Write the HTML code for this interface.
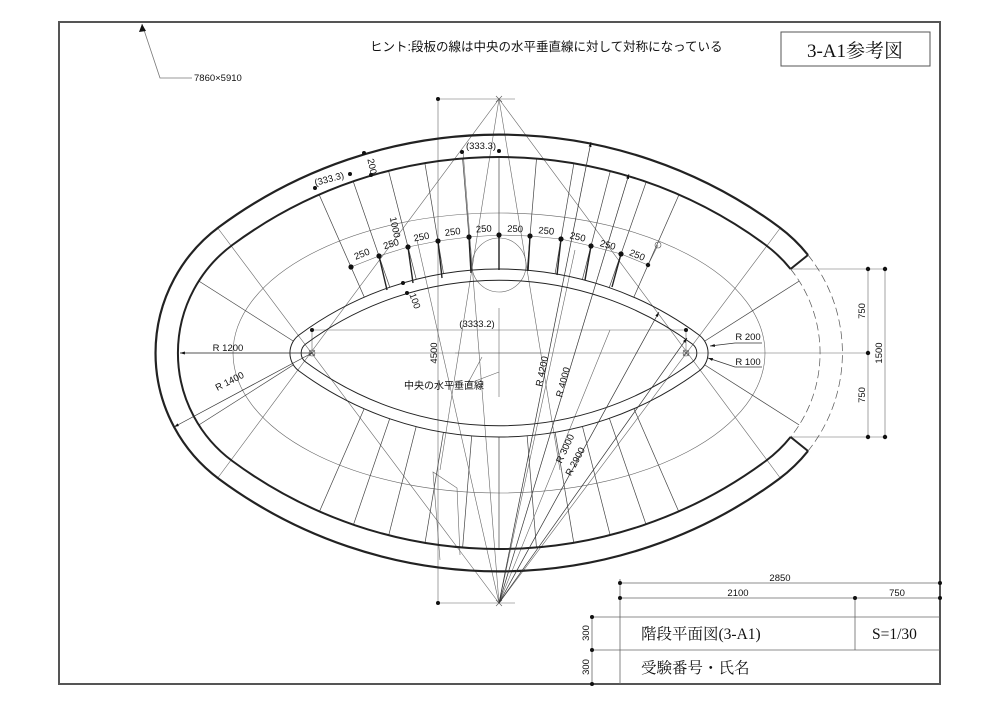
<!DOCTYPE html>
<html><head><meta charset="utf-8"><style>
html,body{margin:0;padding:0;background:#fff;width:999px;height:706px;overflow:hidden}
svg{display:block}
text{font-family:"Liberation Sans","Noto Sans CJK JP",sans-serif;fill:#111}
.s{font-family:"Liberation Serif","Noto Serif CJK SC",serif}
</style></head><body>
<svg width="999" height="706" viewBox="0 0 999 706" xmlns="http://www.w3.org/2000/svg">
<defs>
<clipPath id="c"><path transform="translate(499 353) scale(0.112)" clip-rule="evenodd" d="M-2381,-964.3 A4000 4000 0 0 1 2381,-964.3 A1200 1200 0 0 1 2381,964.3 A4000 4000 0 0 1 -2381,964.3 A1200 1200 0 0 1 -2381,-964.3Z M-1785.7,-160.7 A3000 3000 0 0 1 1785.7,-160.7 A200 200 0 0 1 1785.7,160.7 A3000 3000 0 0 1 -1785.7,160.7 A200 200 0 0 1 -1785.7,-160.7Z"/></clipPath>
<clipPath id="top"><rect x="0" y="0" width="999" height="353"/></clipPath>
<clipPath id="bot"><rect x="0" y="353" width="999" height="353"/></clipPath>
<marker id="a" viewBox="0 0 10 10" refX="10" refY="5" markerWidth="7" markerHeight="7" orient="auto-start-reverse"><path d="M0,2 L10,5 L0,8z" fill="#111"/></marker>
</defs>
<rect x="59" y="22" width="881" height="662" fill="none" stroke="#555" stroke-width="2"/>
<polyline points="142,24 160,78 192,78" fill="none" stroke="#777" stroke-width="0.8"/>
<path d="M142,24 L139,32 L146,31z" fill="#111"/>
<text x="194" y="81" font-size="9.5">7860×5910</text>
<text x="370" y="51" font-size="12.5">ヒント:段板の線は中央の水平垂直線に対して対称になっている</text>
<rect x="781" y="32" width="149" height="34" fill="none" stroke="#555" stroke-width="1"/>
<text class="s" x="855" y="57" font-size="19" text-anchor="middle">3-A1参考図</text>

<g stroke="#666" stroke-width="0.6" fill="none">
<line x1="438" y1="99" x2="515" y2="99"/><line x1="438" y1="603" x2="515" y2="603"/>
<line x1="438" y1="99" x2="438" y2="603"/>
<line x1="499" y1="99" x2="217" y2="479"/><line x1="499" y1="99" x2="781" y2="479"/>
<line x1="499" y1="603" x2="217" y2="227"/><line x1="499" y1="603" x2="781" y2="227"/>
<line x1="180" y1="353" x2="870" y2="353"/>
<line x1="455" y1="353" x2="543" y2="353"/><line x1="499" y1="308" x2="499" y2="397"/>
<line x1="499" y1="603" x2="417" y2="240"/>
<line x1="499" y1="603" x2="463" y2="151"/>
<line x1="499" y1="99" x2="560" y2="470"/>
<line x1="499" y1="99" x2="440" y2="470"/>
<line x1="499" y1="603" x2="575" y2="250"/>
<line x1="499" y1="603" x2="610" y2="330"/>
<ellipse cx="499" cy="353" rx="266" ry="140"/>
<polyline points="351,267 379,256 408,247 438,241 469,237 499,235 530,236 561,239 591,246 621,254 648,265 658,245"/>
<circle cx="499" cy="265" r="27"/>
<line x1="312" y1="330" x2="686" y2="330"/>
<line x1="312" y1="330" x2="312" y2="353"/><line x1="686" y1="330" x2="686" y2="353"/>
<line x1="790" y1="269" x2="885" y2="269"/><line x1="790" y1="437" x2="885" y2="437"/>
<line x1="868" y1="269" x2="868" y2="437"/><line x1="885" y1="269" x2="885" y2="437"/>
<polyline points="460,555 457,488 433,472 440,560"/>
<line x1="468" y1="383" x2="482" y2="357"/><line x1="470" y1="383" x2="499" y2="372"/>
</g>
<g clip-path="url(#c)" stroke="#444" stroke-width="0.7">
<g clip-path="url(#top)">
<line x1="499" y1="603" x2="203" y2="-69"/><line x1="499" y1="603" x2="259" y2="-91"/>
<line x1="499" y1="603" x2="317" y2="-109"/><line x1="499" y1="603" x2="377" y2="-121"/>
<line x1="499" y1="603" x2="439" y2="-129"/><line x1="499" y1="603" x2="499" y2="-133"/>
<line x1="499" y1="603" x2="561" y2="-131"/><line x1="499" y1="603" x2="623" y2="-125"/>
<line x1="499" y1="603" x2="683" y2="-111"/><line x1="499" y1="603" x2="743" y2="-95"/>
<line x1="499" y1="603" x2="797" y2="-73"/>
</g>
<g clip-path="url(#bot)">
<line x1="499" y1="99" x2="203" y2="779"/><line x1="499" y1="99" x2="259" y2="801"/>
<line x1="499" y1="99" x2="317" y2="819"/><line x1="499" y1="99" x2="377" y2="831"/>
<line x1="499" y1="99" x2="439" y2="839"/><line x1="499" y1="99" x2="499" y2="843"/>
<line x1="499" y1="99" x2="561" y2="841"/><line x1="499" y1="99" x2="623" y2="835"/>
<line x1="499" y1="99" x2="683" y2="821"/><line x1="499" y1="99" x2="743" y2="805"/>
<line x1="499" y1="99" x2="797" y2="783"/>
</g>
<line x1="312" y1="353" x2="150" y2="250"/><line x1="312" y1="353" x2="150" y2="456"/>
<line x1="686" y1="353" x2="848" y2="250"/><line x1="686" y1="353" x2="848" y2="456"/>
</g>
<g transform="translate(499 353) scale(0.112)" fill="none" stroke="#222">
<path vector-effect="non-scaling-stroke" stroke-width="2.2" d="M2759,-875 A1400 1400 0 0 0 2500,-1125 A4200 4200 0 0 0 -2500,-1125 A1400 1400 0 0 0 -2500,1125 A4200 4200 0 0 0 2500,1125 A1400 1400 0 0 0 2759,875"/>
<path vector-effect="non-scaling-stroke" stroke-width="2" d="M2603.4,-750 A1200 1200 0 0 0 2381,-964.3 A4000 4000 0 0 0 -2381,-964.3 A1200 1200 0 0 0 -2381,964.3 A4000 4000 0 0 0 2381,964.3 A1200 1200 0 0 0 2603.4,750"/>
<path vector-effect="non-scaling-stroke" stroke-width="2" d="M2603.4,-750 L2759,-875 M2603.4,750 L2759,875"/>
<path vector-effect="non-scaling-stroke" stroke-width="0.7" stroke="#555" stroke-dasharray="8 4" d="M2603.4,-750 A1200 1200 0 0 1 2603.4,750 M2759,-875 A1400 1400 0 0 1 2759,875"/>
<path vector-effect="non-scaling-stroke" stroke-width="1" d="M-1785.7,-160.7 A3000 3000 0 0 1 1785.7,-160.7 A200 200 0 0 1 1785.7,160.7 A3000 3000 0 0 1 -1785.7,160.7 A200 200 0 0 1 -1785.7,-160.7Z"/>
<path vector-effect="non-scaling-stroke" stroke-width="1" d="M-1726,-80.4 A2900 2900 0 0 1 1726,-80.4 A100 100 0 0 1 1726,80.4 A2900 2900 0 0 1 -1726,80.4 A100 100 0 0 1 -1726,-80.4Z"/>
</g>
<g stroke="#555" stroke-width="0.6" fill="none">
<circle cx="312" cy="353" r="3"/><circle cx="686" cy="353" r="3"/>
<path d="M309,350l6,6M315,350l-6,6M683,350l6,6M689,350l-6,6M496,96l6,6M502,96l-6,6M496,600l6,6M502,600l-6,6"/>
<circle cx="658" cy="245" r="3"/>
</g>
<g stroke="#333" stroke-width="0.7" fill="none" marker-end="url(#a)">
<line x1="499" y1="603" x2="591" y2="142"/>
<line x1="499" y1="603" x2="629" y2="174"/>
<line x1="499" y1="603" x2="659" y2="312"/>
<line x1="499" y1="603" x2="687" y2="338"/>
<line x1="312" y1="353" x2="180" y2="353"/>
<line x1="312" y1="353" x2="174" y2="427"/>
<polyline points="762,343 735,343 710,346"/>
<polyline points="762,367 735,367 708,358"/>
</g>
<g stroke="#222" stroke-width="1.4">
<line x1="379" y1="256" x2="387" y2="290"/><line x1="408" y1="247" x2="413" y2="283"/>
<line x1="438" y1="241" x2="442" y2="278"/><line x1="469" y1="237" x2="471" y2="273"/>
<line x1="499" y1="235" x2="499" y2="270"/><line x1="530" y1="236" x2="528" y2="271"/>
<line x1="561" y1="239" x2="557" y2="275"/><line x1="591" y1="246" x2="585" y2="280"/>
<line x1="621" y1="254" x2="612" y2="287"/>
</g>
<g fill="#111">
<circle cx="351" cy="267" r="2.6"/><circle cx="379" cy="256" r="2.6"/><circle cx="408" cy="247" r="2.6"/><circle cx="438" cy="241" r="2.6"/><circle cx="469" cy="237" r="2.6"/><circle cx="499" cy="235" r="2.6"/><circle cx="530" cy="236" r="2.6"/><circle cx="561" cy="239" r="2.6"/><circle cx="591" cy="246" r="2.6"/><circle cx="621" cy="254" r="2.6"/><circle cx="648" cy="265" r="2.2"/>
<circle cx="462" cy="152" r="2"/><circle cx="499" cy="151" r="2"/>
<circle cx="315" cy="188" r="2"/><circle cx="350" cy="174" r="2"/>
<circle cx="364" cy="153" r="2"/><circle cx="371" cy="175" r="2"/>
<circle cx="403" cy="283" r="2"/><circle cx="407" cy="293" r="2"/>
<circle cx="312" cy="330" r="2"/><circle cx="686" cy="330" r="2"/>
<circle cx="438" cy="99" r="2"/><circle cx="438" cy="603" r="2"/>
<circle cx="868" cy="269" r="2.2"/><circle cx="885" cy="269" r="2.2"/><circle cx="868" cy="353" r="2.2"/><circle cx="868" cy="437" r="2.2"/><circle cx="885" cy="437" r="2.2"/>
</g>
<g font-size="9.5" text-anchor="middle">
<text transform="translate(363,257) rotate(-21)">250</text>
<text transform="translate(392,247) rotate(-17)">250</text>
<text transform="translate(422,240) rotate(-11)">250</text>
<text transform="translate(453,235) rotate(-7)">250</text>
<text transform="translate(484,232) rotate(-4)">250</text>
<text transform="translate(515,232) rotate(2)">250</text>
<text transform="translate(546,234) rotate(5)">250</text>
<text transform="translate(577,240) rotate(13)">250</text>
<text transform="translate(607,248) rotate(15)">250</text>
<text transform="translate(636,258) rotate(22)">250</text>
<text x="481" y="149">(333.3)</text>
<text transform="translate(330,182) rotate(-15)">(333.3)</text>
<text transform="translate(369,167) rotate(78)">200</text>
<text transform="translate(392,228) rotate(78)">1000</text>
<text transform="translate(412,302) rotate(70)">100</text>
<text x="477" y="327">(3333.2)</text>
<text transform="translate(437,353) rotate(-90)">4500</text>
<text x="228" y="351">R 1200</text>
<text transform="translate(231,384) rotate(-27)">R 1400</text>
<text x="748" y="340">R 200</text>
<text x="748" y="365">R 100</text>
<text transform="translate(545,372) rotate(-78)">R 4200</text>
<text transform="translate(566,383) rotate(-75)">R 4000</text>
<text transform="translate(568,450) rotate(-65)">R 3000</text>
<text transform="translate(578,463) rotate(-62)">R 2900</text>
<text transform="translate(865,311) rotate(-90)">750</text>
<text transform="translate(865,395) rotate(-90)">750</text>
<text transform="translate(882,353) rotate(-90)">1500</text>
</g>
<text x="404" y="389" font-size="10">中央の水平垂直線</text>
<g stroke="#666" stroke-width="0.8" fill="none">
<line x1="620" y1="579" x2="620" y2="684"/>
<line x1="620" y1="583" x2="940" y2="583"/>
<line x1="620" y1="598" x2="940" y2="598"/>
<line x1="855" y1="598" x2="855" y2="650"/>
<line x1="592" y1="617" x2="940" y2="617"/>
<line x1="592" y1="650" x2="940" y2="650"/>
<line x1="592" y1="617" x2="592" y2="684"/>
</g>
<g fill="#111">
<circle cx="620" cy="583" r="2"/><circle cx="940" cy="583" r="2"/><circle cx="620" cy="598" r="2"/><circle cx="855" cy="598" r="2"/><circle cx="940" cy="598" r="2"/>
<circle cx="592" cy="617" r="2"/><circle cx="592" cy="650" r="2"/><circle cx="592" cy="684" r="2"/>
</g>
<g font-size="9.5" text-anchor="middle">
<text x="780" y="581">2850</text>
<text x="738" y="596">2100</text>
<text x="897" y="596">750</text>
<text transform="translate(589,633) rotate(-90)">300</text>
<text transform="translate(589,667) rotate(-90)">300</text>
</g>
<text class="s" x="641" y="639" font-size="15.5">階段平面図(3-A1)</text>
<text class="s" x="872" y="639" font-size="15.5">S=1/30</text>
<text class="s" x="641" y="673" font-size="15.5">受験番号・氏名</text>
</svg>
</body></html>
